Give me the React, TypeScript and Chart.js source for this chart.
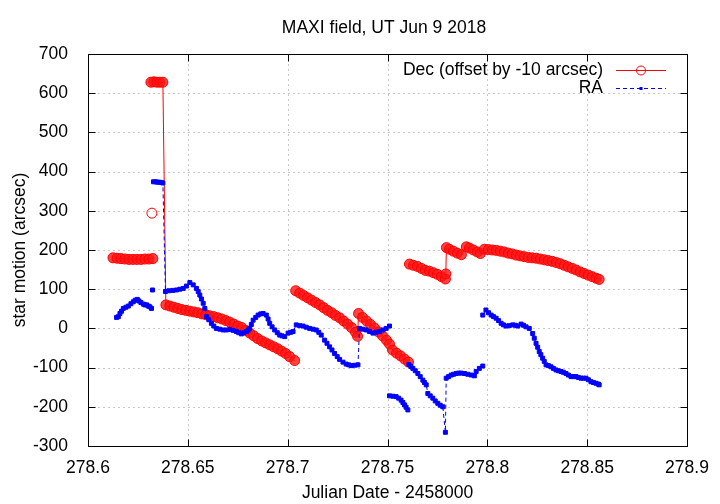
import React, { useEffect, useRef } from 'react';
import { Chart, registerables } from 'chart.js';

Chart.register(...registerables);

const TITLE = 'MAXI field, UT Jun 9 2018';
const X_LABEL = 'Julian Date - 2458000';
const Y_LABEL = 'star motion (arcsec)';
const DEC_LABEL = 'Dec (offset by -10 arcsec)';
const RA_LABEL = 'RA';

const X_TICKS = [278.6, 278.65, 278.7, 278.75, 278.8, 278.85, 278.9];
const Y_TICKS = [-300, -200, -100, 0, 100, 200, 300, 400, 500, 600, 700];

// Dec (offset) series; null marks a break in the line
const decX: (number | null)[] = [
  278.6125, 278.6145, 278.6165, 278.6185, 278.6205, 278.6225, 278.6245, 278.6265, 278.6285, 278.6305, 278.6325,
  null,
  278.632,
  null,
  278.6315, 278.633, 278.6345, 278.636, 278.6375,
  278.639, 278.641, 278.643, 278.645, 278.647, 278.649, 278.651, 278.653, 278.655, 278.657, 278.659, 278.661, 278.663,
  278.665, 278.667, 278.669, 278.671, 278.673, 278.675, 278.677, 278.679, 278.681, 278.683, 278.685, 278.687, 278.689,
  278.691, 278.693, 278.695, 278.697, 278.699, 278.701, 278.7035,
  null,
  278.704, 278.706, 278.708, 278.71, 278.712, 278.714, 278.716, 278.718, 278.72, 278.722, 278.724, 278.726, 278.728,
  278.73, 278.732, 278.734, 278.735,
  278.7355, 278.7375, 278.7395, 278.7415, 278.7435, 278.7455, 278.7475, 278.7495, 278.751, 278.7525, 278.7545, 278.7565,
  278.7585, 278.7605,
  null,
  278.761, 278.763, 278.765, 278.767, 278.769, 278.771, 278.773, 278.775, 278.777, 278.779, 278.7792,
  278.7795, 278.781, 278.783, 278.785, 278.787,
  278.7895, 278.791, 278.793, 278.795, 278.7965,
  278.7985, 278.8005, 278.8025, 278.8045, 278.8065, 278.8085, 278.8105, 278.8125, 278.8145, 278.8165, 278.8185, 278.8205,
  278.8225, 278.8245, 278.8265, 278.8285, 278.8305, 278.8325, 278.8345, 278.8365, 278.8385, 278.8405, 278.8425, 278.8445,
  278.8465, 278.8485, 278.8505, 278.8525, 278.8545, 278.856,
];
const decY: (number | null)[] = [
  180, 179, 178, 177, 176, 176, 176, 176, 177, 177, 178,
  null,
  294,
  null,
  628, 629, 628, 628, 628,
  60, 57, 54, 51, 48, 46, 44, 42, 40, 37, 35, 32, 30,
  27, 24, 20, 16, 11, 6, 2, -5, -12, -19, -26, -32, -37,
  -42, -47, -52, -58, -64, -72, -82,
  null,
  96, 90, 84, 78, 72, 66, 60, 53, 46, 40, 33, 27, 19,
  11, 2, -10, -20,
  38, 28, 19, 10, 1, -9, -19, -30, -40, -55, -63, -70,
  -78, -86,
  null,
  164, 161, 158, 153, 148, 146, 142, 138, 132, 126, 139,
  206, 202, 197, 192, 188,
  208, 205, 200, 195, 191,
  202, 201, 200, 199, 197, 195, 192, 190, 187, 185, 183, 181,
  180, 179, 177, 175, 173, 171, 168, 165, 161, 157, 153, 149,
  144, 140, 136, 132, 128, 125,
];

// RA series; null marks a break in the line
const raX: (number | null)[] = [
  278.6143, 278.6152, 278.616, 278.6168, 278.6177, 278.619, 278.6202, 278.6215, 278.6227, 278.6237, 278.6247, 278.6255,
  278.6265, 278.6277, 278.6285, 278.6293, 278.6302, 278.631, 278.6318,
  null,
  278.6323,
  null,
  278.6328, 278.6338, 278.6348, 278.6358, 278.6368, 278.6375,
  278.6388, 278.6405, 278.6425, 278.6443, 278.646, 278.6477, 278.6493, 278.651, 278.6527, 278.6543, 278.6552, 278.656,
  278.6568, 278.6577, 278.6585, 278.6593, 278.6605, 278.6618, 278.663, 278.6643, 278.666, 278.6677, 278.6693, 278.671,
  278.6727, 278.6743, 278.6755, 278.6768, 278.678, 278.6793, 278.6802, 278.681, 278.6818, 278.6827, 278.684, 278.6852,
  278.6865, 278.6877, 278.6893, 278.6902, 278.691, 278.6922, 278.6935, 278.6948, 278.696, 278.6972, 278.6985, 278.7002,
  278.7015, 278.7027,
  278.7043, 278.706, 278.7077, 278.7093, 278.711, 278.7127, 278.7143, 278.7156, 278.7168, 278.7185, 278.7197, 278.721,
  278.7222, 278.7235, 278.7248, 278.726, 278.7277, 278.7293, 278.7306, 278.7318, 278.7335, 278.7352,
  278.736, 278.7377, 278.7393, 278.741, 278.7427, 278.7443, 278.746, 278.7477, 278.7493, 278.751,
  null,
  278.751, 278.7527, 278.7543, 278.7556, 278.7568, 278.7577, 278.7585, 278.7593, 278.7602,
  null,
  278.7607, 278.7617, 278.7627, 278.7639, 278.7652, 278.7664, 278.7677, 278.7685, 278.7694, 278.7702, 278.7714, 278.7727,
  278.7739, 278.7752, 278.7764, 278.7777, 278.779, 278.7794, 278.7806, 278.7819, 278.7831, 278.7844, 278.7856, 278.7869,
  278.7885, 278.7902, 278.7919, 278.7935, 278.7944, 278.796, 278.7977,
  null,
  278.7977, 278.7993, 278.8006, 278.8019, 278.8031, 278.8044, 278.8056, 278.8069, 278.8081, 278.8094, 278.811, 278.8127,
  278.814, 278.8152, 278.8169, 278.8181, 278.8194, 278.821, 278.8227, 278.8235, 278.8244, 278.8252, 278.826, 278.8268,
  278.8277, 278.8285, 278.8294, 278.8306, 278.8319, 278.8331, 278.8344, 278.8356, 278.8369, 278.8381, 278.8394, 278.8406,
  278.8419, 278.8431, 278.8444, 278.8456, 278.8469, 278.8481, 278.8494, 278.8506, 278.8519, 278.8531, 278.8544, 278.8556,
  278.856,
];
const raY: (number | null)[] = [
  28, 30, 38, 44, 51, 54, 57, 63, 68, 72, 74, 70,
  66, 62, 60, 60, 57, 55, 51,
  null,
  98,
  null,
  374, 374, 373, 373, 372, 371,
  94, 96, 97, 98, 100, 102, 108, 117, 111, 102, 94, 85,
  75, 64, 51, 30, 22, 13, 6, 0, -2, -4, -4, -3,
  -5, -8, -11, -14, -11, -8, -4, 0, 10, 21, 28, 34,
  37, 38, 34, 24, 13, 4, -4, -11, -17, -19, -21, -12,
  -10, -8,
  9, 7, 6, 3, 0, -2, -4, -10, -17, -30, -38, -47,
  -55, -64, -72, -79, -86, -91, -93, -95, -94, -93,
  0, -2, -4, -8, -12, -10, -8, -4, 0, 6,
  null,
  -172, -173, -174, -178, -183, -189, -195, -201, -208,
  null,
  -92, -97, -102, -108, -115, -123, -132, -138, -144, -166, -172, -178,
  -185, -191, -196, -200, -265, -127, -123, -119, -117, -115, -114, -114,
  -115, -117, -119, -121, -110, -102, -96,
  null,
  34, 47, 40, 34, 30, 26, 20, 13, 9, 6, 7, 9,
  8, 6, 11, 8, 4, 0, -13, -25, -38, -48, -59, -67,
  -76, -84, -93, -95, -98, -102, -106, -108, -110, -112, -115, -119,
  -123, -123, -123, -125, -127, -127, -127, -131, -136, -138, -140, -142,
  -144,
];

const FONT = '"Liberation Sans", Arial, Helvetica, sans-serif';
const FS = 17.5;

function toPoints(xs: (number | null)[], ys: (number | null)[]) {
  let lastX = xs[0] as number;
  return xs.map((x, i) => {
    if (x != null) lastX = x;
    return { x: x ?? lastX, y: ys[i] };
  });
}

const gnuplotFrame = {
  id: 'gnuplotFrame',
  beforeDatasetsDraw(chart: any) {
    const { ctx, chartArea: a, scales } = chart;
    ctx.save();
    ctx.strokeStyle = '#c8c8c8';
    ctx.lineWidth = 1;
    ctx.setLineDash([2, 3]);
    for (const v of X_TICKS) {
      const px = Math.round(scales.x.getPixelForValue(v)) + 0.5;
      if (px - a.left < 2 || a.right - px < 2) continue;
      ctx.beginPath();
      ctx.moveTo(px, a.top);
      ctx.lineTo(px, a.bottom);
      ctx.stroke();
    }
    for (const v of Y_TICKS) {
      const py = Math.round(scales.y.getPixelForValue(v)) + 0.5;
      if (py - a.top < 2 || a.bottom - py < 2) continue;
      ctx.beginPath();
      ctx.moveTo(a.left, py);
      ctx.lineTo(a.right, py);
      ctx.stroke();
    }
    ctx.restore();
  },
  afterDatasetsDraw(chart: any) {
    const { ctx, chartArea: a, scales } = chart;
    ctx.save();
    ctx.setLineDash([]);
    ctx.strokeStyle = '#000';
    ctx.lineWidth = 1;
    const L = Math.round(a.left) + 0.5;
    const R = Math.round(a.right) + 0.5;
    const T = Math.round(a.top) + 0.5;
    const B = Math.round(a.bottom) + 0.5;
    ctx.strokeRect(L, T, R - L, B - T);
    const TL = 7;
    ctx.beginPath();
    for (const v of X_TICKS) {
      const px = Math.round(scales.x.getPixelForValue(v)) + 0.5;
      ctx.moveTo(px, B); ctx.lineTo(px, B - TL);
      ctx.moveTo(px, T); ctx.lineTo(px, T + TL);
    }
    for (const v of Y_TICKS) {
      const py = Math.round(scales.y.getPixelForValue(v)) + 0.5;
      ctx.moveTo(L, py); ctx.lineTo(L + TL, py);
      ctx.moveTo(R, py); ctx.lineTo(R - TL, py);
    }
    ctx.stroke();

    // texts
    ctx.fillStyle = '#000';
    ctx.font = `${FS}px ${FONT}`;
    ctx.textBaseline = 'alphabetic';
    ctx.textAlign = 'center';
    ctx.fillText(TITLE, 384, 33);
    ctx.fillText(X_LABEL, (a.left + a.right) / 2, 498);
    ctx.save();
    ctx.translate(25, (a.top + a.bottom) / 2);
    ctx.rotate(-Math.PI / 2);
    ctx.fillText(Y_LABEL, 0, 0);
    ctx.restore();

    // key (legend)
    ctx.textAlign = 'right';
    ctx.fillText(DEC_LABEL, 603, 75);
    ctx.fillText(RA_LABEL, 603, 93);
    ctx.strokeStyle = '#ff0000';
    ctx.lineWidth = 1;
    ctx.beginPath();
    ctx.moveTo(616, 70.5); ctx.lineTo(666, 70.5);
    ctx.stroke();
    ctx.beginPath();
    ctx.arc(641, 70.5, 4.5, 0, Math.PI * 2);
    ctx.stroke();
    ctx.strokeStyle = '#0000ff';
    ctx.setLineDash([4, 3]);
    ctx.beginPath();
    ctx.moveTo(616, 88.5); ctx.lineTo(666, 88.5);
    ctx.stroke();
    ctx.setLineDash([]);
    ctx.fillStyle = '#0000ff';
    ctx.fillRect(639.5, 87, 3, 3);
    ctx.restore();
  },
};

export default function App() {
  const ref = useRef<HTMLCanvasElement | null>(null);
  useEffect(() => {
    if (!ref.current) return;
    const chart = new Chart(ref.current, {
      type: 'line',
      data: {
        datasets: [
          {
            label: DEC_LABEL,
            data: toPoints(decX, decY) as any,
            order: 2,
            borderColor: '#ff0000',
            borderWidth: 1,
            pointStyle: 'circle',
            pointRadius: 5,
            pointBorderWidth: 1,
            pointBorderColor: '#ff0000',
            pointBackgroundColor: (c: any) => {
              const i = c.dataIndex;
              const iso = decY[i - 1] == null && decY[i + 1] == null;
              return iso ? 'rgba(255,255,255,0)' : 'rgba(255,20,20,0.8)';
            },
            spanGaps: false,
          },
          {
            label: RA_LABEL,
            data: toPoints(raX, raY) as any,
            order: 1,
            borderColor: '#0000ff',
            borderWidth: 1,
            borderDash: [4, 3],
            pointStyle: 'rect',
            pointRadius: 2.8,
            pointBorderWidth: 1,
            pointBorderColor: '#0000ff',
            pointBackgroundColor: '#0000ff',
            spanGaps: false,
          },
        ],
      },
      options: {
        animation: false,
        responsive: false,
        events: [],
        layout: { padding: { top: 54, right: 33, left: 0, bottom: 0 } },
        plugins: { legend: { display: false }, tooltip: { enabled: false }, title: { display: false } },
        scales: {
          x: {
            type: 'linear',
            min: 278.6,
            max: 278.9,
            grid: { display: false },
            border: { display: false },
            afterBuildTicks: (s: any) => { s.ticks = X_TICKS.map((v) => ({ value: v })); },
            afterFit: (s: any) => { s.height = 58; },
            ticks: {
              autoSkip: false,
              maxRotation: 0,
              padding: 4,
              color: '#000',
              font: { family: FONT, size: FS },
              callback: (v: any) => String(v),
            },
          },
          y: {
            type: 'linear',
            min: -300,
            max: 700,
            grid: { display: false },
            border: { display: false },
            afterBuildTicks: (s: any) => { s.ticks = Y_TICKS.map((v) => ({ value: v })); },
            afterFit: (s: any) => { s.width = 88; },
            ticks: {
              autoSkip: false,
              padding: 12,
              color: '#000',
              font: { family: FONT, size: FS },
              callback: (v: any) => String(v),
            },
          },
        },
      },
      plugins: [gnuplotFrame],
    });
    return () => chart.destroy();
  }, []);
  return (
    <canvas
      ref={ref}
      width={720}
      height={504}
      style={{ position: 'absolute', left: 0, top: 0, width: 720, height: 504, display: 'block' }}
    />
  );
}
